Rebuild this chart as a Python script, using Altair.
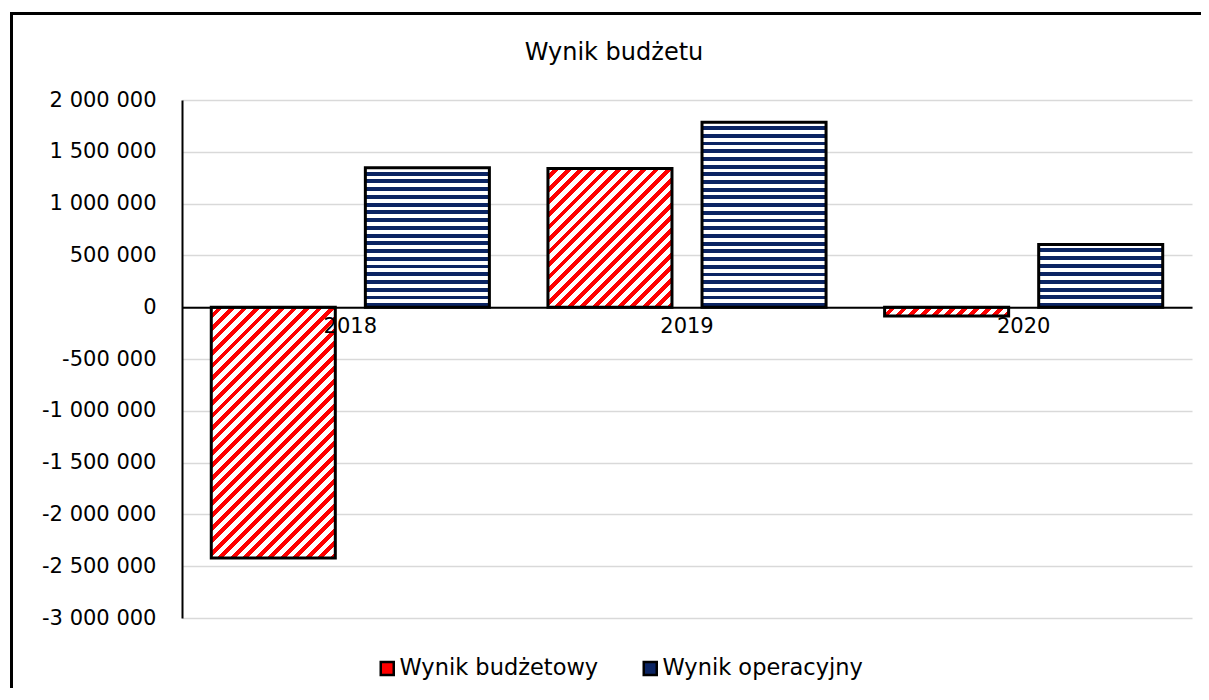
import altair as alt
import pandas as pd

# ---- data ----
years = ["2018", "2019", "2020"]
series = ["Wynik budżetowy", "Wynik operacyjny"]
budzetowy = [-2420000, 1340000, -85000]
operacyjny = [1345000, 1785000, 605000]
y_ticks = list(range(-3000000, 2000001, 500000))
chart_title = "Wynik budżetu"

rows = []
for i, yr in enumerate(years):
    rows.append({"year": yr, "series": series[0], "value": budzetowy[i]})
    rows.append({"year": yr, "series": series[1], "value": operacyjny[i]})
for k, r in enumerate(rows):
    r["id"] = k
df = pd.DataFrame(rows)

# ---- layout / style ----
FONT = "DejaVu Sans"
W, H = 1010, 518
YMIN, YMAX = -3000000, 2000000
PI, PO = 0.195, 0.19
band = W / len(years)
step = band / (len(series) - PI + 2 * PO)
bw = step * (1 - PI)
zero_px = (YMAX - 0) / (YMAX - YMIN) * H

RED = "#FF0000"
NAVY = "#0B2463"
WHITE = "#FFFFFF"


def stripes(n, color, frac, x2, y2):
    stops = []
    for i in range(n):
        a = i / n
        b = (i + 1 - frac) / n
        c = (i + 1) / n
        stops += [
            {"offset": a, "color": WHITE},
            {"offset": b, "color": WHITE},
            {"offset": b, "color": color},
            {"offset": c, "color": color},
        ]
    return {"gradient": "linear", "x1": 0, "y1": 0, "x2": x2, "y2": y2, "stops": stops}


conditions = []
for r in rows:
    h = abs(r["value"]) / (YMAX - YMIN) * H
    if r["series"] == series[0]:
        c = (bw + h) / (bw * bw + h * h)
        n = max(1, round((bw + h) / 12.5))
        grad = stripes(n, RED, 0.47, c * bw, c * h)
    else:
        n = max(1, round(h / 7.6))
        grad = stripes(n, NAVY, 0.5, 0, 1)
    conditions.append({"test": f"datum.id == {r['id']}", "value": grad})

bars = alt.Chart(df).mark_bar(stroke="black", strokeWidth=3).encode(
    x=alt.X(
        "year:N",
        sort=years,
        scale=alt.Scale(paddingInner=0, paddingOuter=0),
        axis=alt.Axis(
            title=None, orient="bottom", offset=-(H - zero_px), labelAngle=0,
            ticks=False, tickSize=0, domainColor="black", domainWidth=2,
            labelFont=FONT, labelFontSize=21, labelColor="black", labelPadding=8,
            grid=False, zindex=2,
        ),
    ),
    xOffset=alt.XOffset("series:N", sort=series,
                        scale=alt.Scale(paddingInner=PI, paddingOuter=PO)),
    y=alt.Y(
        "value:Q",
        scale=alt.Scale(domain=[YMIN, YMAX], nice=False, zero=False),
        axis=alt.Axis(
            title=None, values=y_ticks, format=",d", ticks=False, tickSize=0,
            labelPadding=26, gridColor="#D9D9D9", gridWidth=1.5,
            domainColor="black", domainWidth=2,
            labelFont=FONT, labelFontSize=21, labelColor="black",
        ),
    ),
    fill=alt.Fill(
        "series:N",
        scale=alt.Scale(domain=series, range=[RED, NAVY]),
        legend=alt.Legend(
            title=None, orient="none", legendX=194, legendY=557,
            direction="horizontal", symbolType="square", symbolSize=169,
            symbolStrokeColor="black", symbolStrokeWidth=2.5, symbolOpacity=1,
            labelFont=FONT, labelFontSize=22.5, labelColor="black",
            labelOffset=1, columnPadding=39, labelLimit=0,
        ),
        condition=conditions,
    ),
)

frame_left = alt.Chart(alt.Data(values=[{"f": 1}])).mark_rule(
    color="black", strokeWidth=3
).encode(x=alt.value(-170.5), y=alt.value(-86.5), y2=alt.value(600))

frame_top = alt.Chart(alt.Data(values=[{"f": 1}])).mark_rule(
    color="black", strokeWidth=3
).encode(x=alt.value(-172), x2=alt.value(1100), y=alt.value(-86.5))

title_text = alt.Chart(alt.Data(values=[{"t": chart_title}])).mark_text(
    font=FONT, fontSize=24, color="black", align="center", baseline="middle"
).encode(x=alt.value(432), y=alt.value(-47), text="t:N")

chart = alt.layer(bars, frame_left, frame_top, title_text).properties(
    width=W,
    height=H,
    autosize=alt.AutoSizeParams(type="none"),
    padding={"left": 174, "top": 92, "right": 9, "bottom": 70},
).configure(
    locale=alt.Locale(number=alt.NumberLocale(
        decimal=",", thousands=" ", grouping=[3], currency=["", " zł"], minus="-"
    )),
    font=FONT,
).configure_view(stroke=None)

chart.save("out.html", embed_options={"renderer": "svg", "actions": False})
